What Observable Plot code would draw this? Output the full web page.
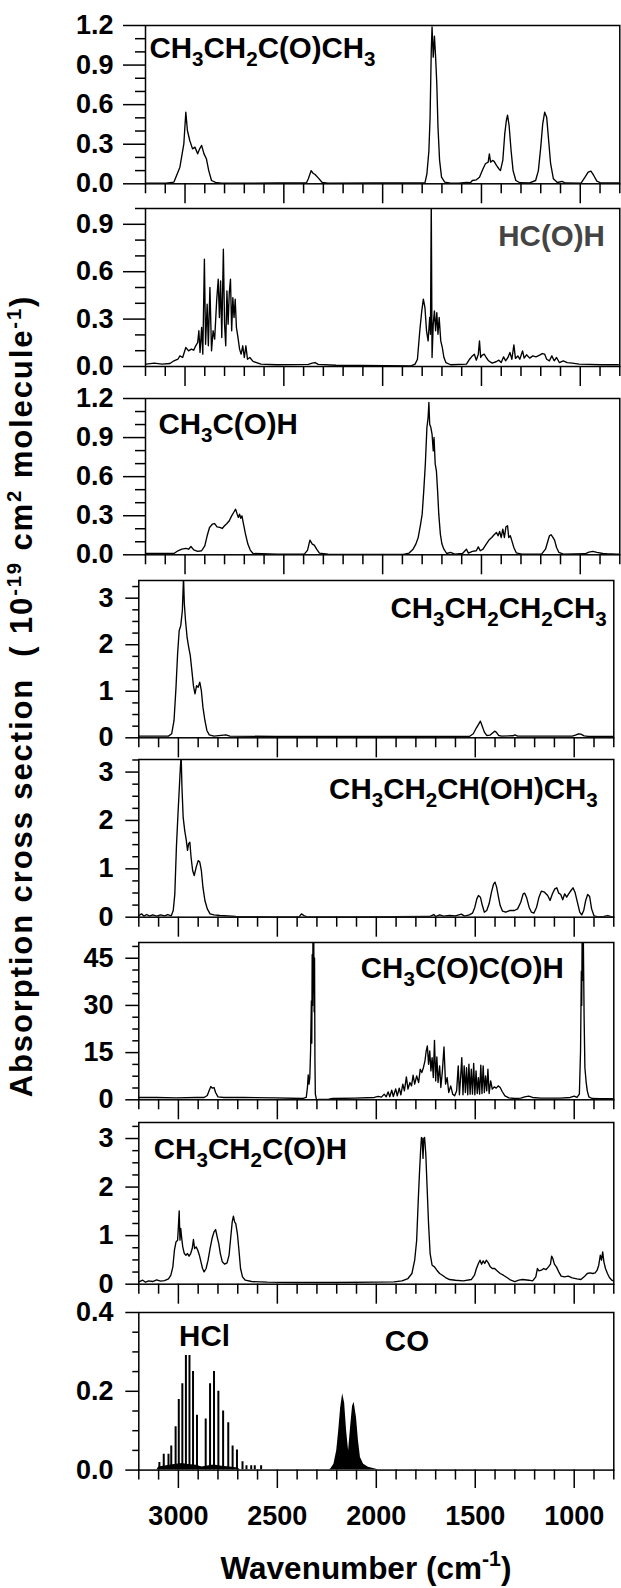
<!DOCTYPE html>
<html><head><meta charset="utf-8">
<script src="https://cdn.jsdelivr.net/npm/d3@7"></script>
<script src="https://cdn.jsdelivr.net/npm/@observablehq/plot@0.6"></script>
<style>
html,body{margin:0;padding:0;background:#fff;}
#chart{position:relative;width:621px;height:1588px;overflow:hidden;font-family:"Liberation Sans",Arial,sans-serif;}
#chart svg{position:absolute;left:0;overflow:visible;}
#chart svg text{font-family:"Liberation Sans",Arial,sans-serif;font-weight:bold;}
</style></head><body><div id="chart"></div>
<script>
// ---------- data: [wavenumber (cm-1), cross section] ----------
const butanone = [[3200,.005],[3196,.005],[3096,.005],[3056,.013],[3026,.126],[3006,.303],[2996,.543],[2988,.404],[2976,.328],[2962,.265],[2950,.278],[2936,.227],[2926,.265],[2916,.291],[2904,.227],[2892,.19],[2880,.10],[2866,.025],[2846,.01],[2816,.005],[2536,.006],[2386,.006],[2376,.038],[2362,.10],[2352,.08],[2342,.07],[2326,.045],[2306,.01],[2276,.004],[2036,.006],[1786,.007],[1776,.076],[1766,.25],[1760,.505],[1754,1.01],[1750,1.19],[1744,.96],[1738,1.12],[1732,.96],[1726,.76],[1720,.43],[1712,.18],[1702,.05],[1686,.013],[1656,.005],[1616,.004],[1576,.01],[1556,.008],[1546,.025],[1526,.03],[1510,.05],[1492,.114],[1480,.152],[1466,.164],[1460,.227],[1454,.164],[1444,.177],[1436,.17],[1424,.139],[1412,.114],[1404,.10],[1392,.177],[1382,.38],[1374,.48],[1368,.52],[1360,.44],[1350,.25],[1340,.10],[1326,.025],[1306,.008],[1256,.007],[1226,.025],[1212,.10],[1200,.278],[1190,.455],[1180,.543],[1170,.505],[1160,.328],[1150,.152],[1136,.038],[1116,.01],[1092,.018],[1076,.006],[996,.005],[976,.05],[960,.088],[946,.096],[932,.063],[916,.02],[896,.006],[816,.006],[800,.006]];

const formaldehyde = [[3200,.015],[3196,.015],[3156,.021],[3116,.015],[3076,.019],[3056,.036],[3036,.046],[3026,.067],[3012,.057],[2996,.12],[2982,.099],[2968,.11],[2956,.103],[2946,.131],[2936,.152],[2930,.226],[2924,.089],[2916,.247],[2910,.078],[2902,.679],[2896,.141],[2888,.394],[2882,.131],[2874,.50],[2866,.099],[2858,.226],[2850,.173],[2840,.415],[2832,.552],[2826,.31],[2820,.542],[2814,.183],[2806,.742],[2800,.268],[2794,.131],[2788,.479],[2782,.268],[2776,.468],[2770,.552],[2764,.226],[2758,.436],[2752,.31],[2746,.426],[2740,.247],[2732,.183],[2724,.11],[2716,.078],[2708,.131],[2700,.057],[2692,.131],[2684,.046],[2672,.057],[2656,.032],[2616,.015],[2536,.011],[2376,.013],[2356,.021],[2342,.025],[2326,.013],[2236,.008],[1856,.004],[1836,.015],[1824,.046],[1812,.226],[1802,.352],[1794,.426],[1786,.373],[1778,.226],[1770,.162],[1762,.31],[1758,.204],[1754,1.05],[1750,.057],[1744,.268],[1738,.352],[1732,.226],[1726,.341],[1720,.204],[1714,.31],[1706,.162],[1698,.12],[1690,.057],[1680,.025],[1656,.011],[1576,.015],[1560,.046],[1546,.067],[1536,.078],[1526,.04],[1516,.078],[1510,.162],[1504,.057],[1496,.072],[1486,.078],[1476,.057],[1464,.036],[1446,.021],[1426,.03],[1412,.04],[1400,.025],[1388,.061],[1378,.036],[1366,.057],[1356,.089],[1346,.046],[1336,.137],[1328,.051],[1316,.067],[1306,.046],[1292,.099],[1284,.053],[1272,.074],[1256,.053],[1240,.067],[1224,.061],[1206,.072],[1192,.082],[1180,.078],[1170,.046],[1156,.036],[1144,.067],[1132,.036],[1120,.057],[1106,.025],[1086,.036],[1066,.025],[1040,.021],[1006,.015],[956,.013],[896,.011],[816,.011],[800,.01]];

const acetaldehyde = [[3200,.01],[3196,.01],[3056,.01],[3036,.031],[3016,.043],[2996,.049],[2982,.043],[2970,.064],[2956,.038],[2936,.026],[2916,.031],[2900,.069],[2888,.146],[2876,.21],[2862,.235],[2850,.24],[2838,.215],[2824,.21],[2812,.202],[2800,.223],[2788,.24],[2776,.261],[2764,.299],[2754,.325],[2744,.35],[2736,.312],[2730,.287],[2724,.312],[2718,.281],[2712,.299],[2704,.235],[2694,.159],[2682,.082],[2670,.036],[2656,.01],[2536,.005],[2396,.005],[2380,.036],[2368,.113],[2356,.082],[2346,.074],[2334,.043],[2320,.013],[2276,.005],[1896,.003],[1866,.013],[1846,.043],[1832,.082],[1820,.133],[1808,.235],[1800,.312],[1792,.491],[1784,.696],[1776,.977],[1770,1.054],[1766,1.169],[1762,1.003],[1756,.977],[1750,.926],[1744,.798],[1740,.901],[1734,.696],[1728,.645],[1722,.491],[1716,.312],[1708,.159],[1700,.082],[1690,.043],[1676,.01],[1656,.018],[1636,.005],[1596,.01],[1576,.043],[1566,.013],[1546,.026],[1526,.031],[1516,.061],[1506,.031],[1492,.043],[1476,.082],[1462,.113],[1448,.133],[1436,.154],[1424,.171],[1416,.146],[1408,.179],[1400,.133],[1392,.197],[1384,.133],[1376,.215],[1368,.223],[1362,.133],[1354,.146],[1346,.107],[1336,.056],[1324,.015],[1296,.005],[1196,.005],[1176,.043],[1166,.094],[1156,.146],[1148,.154],[1140,.138],[1130,.113],[1120,.056],[1108,.018],[1086,.005],[976,.008],[956,.02],[936,.026],[916,.018],[886,.01],[866,.008],[816,.005],[800,.005]];

const butane = [[3200,.036],[3110,.036],[3050,.036],[3034,.086],[3022,.372],[3012,1.088],[3004,1.80],[2996,2.30],[2988,2.41],[2980,2.73],[2974,3.45],[2970,2.88],[2964,2.52],[2956,2.16],[2948,1.95],[2940,1.77],[2932,1.45],[2924,1.12],[2916,.945],[2908,1.12],[2900,1.088],[2892,1.195],[2884,1.016],[2876,.659],[2866,.372],[2856,.157],[2844,.064],[2820,.036],[2760,.064],[2740,.036],[2510,.029],[1910,.029],[1530,.029],[1510,.086],[1494,.215],[1482,.30],[1474,.358],[1466,.265],[1454,.122],[1442,.05],[1426,.057],[1414,.10],[1402,.143],[1394,.122],[1382,.05],[1366,.036],[1310,.043],[1300,.064],[1286,.036],[1110,.036],[1010,.036],[994,.057],[978,.086],[966,.079],[950,.043],[930,.029],[810,.029],[800,.029]];

const butanol = [[3200,.034],[3186,.069],[3174,.021],[3160,.055],[3146,.021],[3130,.048],[3110,.021],[3090,.048],[3070,.028],[3054,.055],[3036,.028],[3026,.138],[3018,.483],[3010,1.448],[3002,2.138],[2996,2.62],[2990,3.10],[2986,3.35],[2982,2.69],[2976,2.07],[2968,1.79],[2960,1.59],[2954,1.38],[2948,1.52],[2942,1.55],[2936,1.24],[2928,.966],[2920,.862],[2910,1.034],[2900,1.17],[2892,1.14],[2884,.966],[2876,.62],[2866,.345],[2854,.172],[2840,.069],[2820,.048],[2790,.034],[2710,.014],[2510,.007],[2390,.007],[2378,.069],[2366,.034],[2350,.007],[2110,.007],[1730,.014],[1710,.055],[1700,.014],[1680,.048],[1660,.021],[1630,.034],[1600,.028],[1570,.062],[1554,.021],[1530,.048],[1514,.083],[1502,.207],[1492,.379],[1484,.448],[1474,.414],[1464,.241],[1454,.103],[1442,.138],[1430,.276],[1418,.517],[1408,.676],[1400,.724],[1392,.621],[1384,.448],[1374,.241],[1362,.124],[1346,.103],[1326,.138],[1302,.138],[1286,.172],[1270,.31],[1258,.483],[1250,.497],[1240,.40],[1228,.207],[1216,.103],[1204,.083],[1190,.207],[1178,.414],[1166,.538],[1150,.517],[1134,.448],[1122,.345],[1110,.483],[1098,.586],[1088,.607],[1078,.497],[1068,.469],[1058,.359],[1048,.483],[1038,.414],[1028,.483],[1016,.552],[1006,.607],[996,.517],[984,.31],[972,.103],[962,.048],[952,.138],[942,.345],[932,.469],[922,.428],[912,.172],[900,.028],[880,.007],[850,.014],[830,.034],[810,.007],[800,.007]];

const methylglyoxal = [[3200,.74],[3110,.74],[3010,.63],[2910,.74],[2870,.74],[2854,1.37],[2844,3.06],[2836,4.22],[2828,3.7],[2820,3.9],[2812,2.32],[2800,.95],[2770,.74],[2670,.74],[2510,.63],[2370,.42],[2354,.74],[2348,3.9],[2344,7.92],[2340,4.96],[2336,7.07],[2332,15.5],[2330,24],[2328,31.4],[2326,18],[2324,46.1],[2322,30],[2320,52],[2318,34],[2316,52],[2314,28],[2312,45],[2310,12],[2308,1.8],[2302,0],[2290,.1],[2240,.21],[2220,.42],[2110,.53],[2010,.74],[1990,1.06],[1974,.84],[1960,1.8],[1950,.95],[1940,2.53],[1932,.95],[1922,3.06],[1914,1.06],[1902,3.48],[1894,1.27],[1884,3.7],[1876,1.58],[1866,4.96],[1858,2.85],[1848,7.29],[1840,3.38],[1830,5.49],[1822,4.43],[1814,7.81],[1806,4.96],[1796,7.6],[1786,5.49],[1778,9.71],[1770,8.66],[1762,10.2],[1754,12.4],[1748,15.5],[1742,17.1],[1736,11.3],[1730,15.5],[1724,9.19],[1718,13.4],[1712,7.07],[1706,18.9],[1700,6.02],[1694,13.6],[1688,5.49],[1680,10.8],[1674,3.91],[1666,9.19],[1658,16.8],[1650,4.96],[1642,7.07],[1634,2.32],[1624,4.43],[1614,1.8],[1604,1.27],[1594,2.85],[1586,10.8],[1580,1.58],[1574,7.07],[1568,13.4],[1562,1.58],[1556,10.8],[1550,2.32],[1544,10.2],[1538,1.58],[1532,11.3],[1526,1.8],[1520,9.71],[1514,1.8],[1508,11.6],[1502,1.58],[1496,9.19],[1490,2.01],[1484,7.07],[1478,1.8],[1472,11.0],[1466,2.01],[1460,10.8],[1454,2.32],[1448,7.6],[1442,2.85],[1436,9.71],[1430,2.01],[1422,6.02],[1414,3.38],[1404,4.12],[1394,3.7],[1384,4.43],[1374,3.91],[1364,2.64],[1350,1.27],[1330,.63],[1300,.42],[1270,.53],[1250,.95],[1230,1.16],[1210,.74],[1170,.53],[1070,.53],[1020,.74],[1000,1.16],[986,.74],[974,1.8],[968,15.5],[964,40.9],[962,30],[960,52],[958,38],[956,52],[954,52],[950,26.1],[946,10.2],[940,5.8],[934,2.85],[926,.95],[910,.42],[870,.32],[810,.32],[800,.3]];

const propanal = [[3200,.048],[3180,.082],[3166,.041],[3150,.069],[3130,.055],[3110,.089],[3090,.062],[3070,.075],[3050,.11],[3038,.185],[3028,.357],[3020,.70],[3012,.872],[3004,.906],[3000,1.18],[2996,1.51],[2992,.906],[2988,1.146],[2984,.975],[2978,.769],[2970,.631],[2962,.597],[2954,.631],[2946,.577],[2938,.631],[2930,.734],[2924,.92],[2918,.734],[2910,.769],[2902,.70],[2894,.597],[2886,.46],[2878,.323],[2870,.254],[2860,.323],[2850,.494],[2840,.734],[2830,.94],[2820,1.078],[2812,1.126],[2804,.975],[2796,.837],[2788,.631],[2778,.46],[2766,.412],[2754,.439],[2744,.597],[2736,.94],[2728,1.283],[2722,1.40],[2716,1.283],[2710,1.249],[2702,1.043],[2694,.70],[2686,.323],[2676,.151],[2662,.082],[2630,.055],[2550,.041],[2410,.034],[2210,.034],[2010,.041],[1910,.048],[1870,.069],[1840,.117],[1820,.22],[1806,.494],[1796,.906],[1788,1.73],[1782,2.28],[1776,2.76],[1772,3.02],[1768,3.0],[1764,2.59],[1760,3.0],[1756,3.02],[1750,2.69],[1744,2.07],[1736,1.249],[1728,.631],[1718,.391],[1706,.357],[1694,.288],[1680,.22],[1666,.185],[1650,.137],[1630,.096],[1600,.082],[1560,.069],[1520,.096],[1504,.185],[1494,.323],[1484,.426],[1476,.494],[1468,.412],[1460,.48],[1452,.426],[1444,.494],[1434,.439],[1424,.357],[1414,.323],[1402,.323],[1390,.275],[1374,.22],[1358,.185],[1340,.137],[1320,.082],[1300,.055],[1280,.082],[1260,.096],[1230,.082],[1210,.069],[1194,.151],[1186,.323],[1178,.275],[1166,.288],[1154,.323],[1142,.302],[1130,.357],[1120,.412],[1114,.577],[1108,.528],[1100,.412],[1090,.357],[1078,.254],[1066,.165],[1050,.151],[1030,.165],[1010,.13],[986,.11],[966,.096],[950,.151],[934,.22],[920,.233],[906,.22],[894,.233],[884,.288],[876,.391],[868,.597],[862,.494],[856,.666],[850,.46],[842,.323],[832,.22],[822,.137],[810,.082],[800,.06]];

const hclLines = [[3096,.019],[3074,.04],[3050,.04],[3036,.061],[3014,.11],[2998,.179],[2980,.219],[2962,.291],[2944,.291],[2926,.25],[2906,.139],[2862,.13],[2840,.219],[2820,.25],[2798,.2],[2774,.15],[2748,.12],[2726,.061],[2704,.051],[2676,.021],[2656,.011],[2632,.011],[2614,.011],[2582,.011]];
const hclBase = [[3108,0],[3100,.008],[3060,.011],[3020,.014],[2980,.017],[2950,.014],[2910,.012],[2880,.008],[2860,.01],[2820,.013],[2780,.01],[2740,.008],[2700,.005],[2685,0]];
const coBand = [[2240,0],[2230,.0025],[2214,.015],[2200,.049],[2190,.099],[2180,.158],[2170,.194],[2160,.17],[2150,.099],[2140,.049],[2130,.108],[2120,.162],[2112,.172],[2100,.133],[2090,.074],[2080,.032],[2064,.015],[2040,.007],[2000,.002],[1990,0]];
const bandNames = ["HCl", "CO"];
const bandLabelWn = [2868, 1845];

// ---------- ticks ----------
const xMajorTicks = [3000, 2500, 2000, 1500, 1000];
const xMinorTicks = [3200,3100,2900,2800,2700,2600,2400,2300,2200,2100,1900,1800,1700,1600,1400,1300,1200,1100,900,800];
const yMajor12 = [0, 0.3, 0.6, 0.9, 1.2], yMinor12 = [0.1,0.2,0.4,0.5,0.7,0.8,1.0,1.1];
const yMajor10 = [0, 0.3, 0.6, 0.9], yMinor10 = [0.1,0.2,0.4,0.5,0.7,0.8,1.0];
const yMajor3 = [0, 1, 2, 3], yMinor3 = [0.25,0.5,0.75,1.25,1.5,1.75,2.25,2.5,2.75,3.25];
const yMajor45 = [0, 15, 30, 45], yMinor45 = [3.75,7.5,11.25,18.75,22.5,26.25,33.75,37.5,41.25,48.75];
const yMajor04 = [0, 0.2, 0.4], yMinor04 = [0.05,0.1,0.15,0.25,0.3,0.35];
const labels = ["CH_3CH_2C(O)CH_3","HC(O)H","CH_3C(O)H","CH_3CH_2CH_2CH_3","CH_3CH_2CH(OH)CH_3","CH_3C(O)C(O)H","CH_3CH_2C(O)H"];
const yMaxes = [1.2, 1.0, 1.2, 3.38, 3.26, 50, 3.33, 0.4];

// ---------- layout ----------
const FS = 27;     // tick labels
const LFS = 29.5;  // panel labels
const topGeom = {left:145, right:619.3, tMaj:22, tMin:10, pad:10};
const botGeom = {left:138.3, right:613.3, tMaj:13, tMin:6, pad:12.3};
const panels = [
  {data:butanone, top:25, bottom:183.3, g:topGeom, yMaj:yMajor12, yMin:yMinor12, fmt:".1f", lab:{a:"top-left", dx:4, dy:11.5}},
  {data:formaldehyde, top:207.7, bottom:365.7, g:topGeom, yMaj:yMajor10, yMin:yMinor10, fmt:".1f", lab:{a:"top-right", dx:-15, dy:16.5, fill:"#444"}},
  {data:acetaldehyde, top:397.7, bottom:554, g:topGeom, yMaj:yMajor12, yMin:yMinor12, fmt:".1f", lab:{a:"top-left", dx:13, dy:14.8}},
  {data:butane, top:580, bottom:737.3, g:botGeom, yMaj:yMajor3, yMin:yMinor3, fmt:"d", lab:{a:"top-right", dx:-7, dy:17}},
  {data:butanol, top:759, bottom:916.7, g:botGeom, yMaj:yMajor3, yMin:yMinor3, fmt:"d", lab:{a:"top-right", dx:-16, dy:18.3}},
  {data:methylglyoxal, top:941.7, bottom:1099, g:botGeom, yMaj:yMajor45, yMin:yMinor45, fmt:"d", lab:{a:"top-left", dx:222, dy:14.6}},
  {data:propanal, top:1122.3, bottom:1284, g:botGeom, yMaj:yMajor3, yMin:yMinor3, fmt:"d", lab:{a:"top-left", dx:15, dy:16}},
  {data:null, top:1311.7, bottom:1469.3, g:botGeom, yMaj:yMajor04, yMin:yMinor04, fmt:".1f"}
];

const SVGNS = "http://www.w3.org/2000/svg";
function rich(el, fs, supShift = 0.4, supSize = 0.68) {
  const s = el.textContent;
  if (!/[_^]/.test(s)) return;
  const parts = s.split(/([_^][-0-9]+)/).filter(p => p.length);
  while (el.firstChild) el.removeChild(el.firstChild);
  let shift = 0;
  for (const p of parts) {
    const ts = document.createElementNS(SVGNS, "tspan");
    let target = 0, str = p;
    if (p[0] === "_") { target = 0.27 * fs; str = p.slice(1); ts.setAttribute("font-size", 0.7 * fs); }
    else if (p[0] === "^") { target = -supShift * fs; str = p.slice(1); ts.setAttribute("font-size", supSize * fs); }
    if (target !== shift) ts.setAttribute("dy", target - shift);
    shift = target;
    ts.textContent = str;
    el.appendChild(ts);
  }
}

const chart = document.getElementById("chart");
const mt = 20, mb = 30;
const X = d => d[0], Y = d => d[1];

panels.forEach((p, i) => {
  const last = i === panels.length - 1;
  const g = p.g;
  const marks = [];
  if (p.data) {
    marks.push(Plot.line(p.data, {x: X, y: Y, stroke: "black", strokeWidth: 1.35, clip: true}));
  } else {
    marks.push(Plot.areaY(hclBase, {x: X, y: Y, fill: "black", clip: true}));
    marks.push(Plot.ruleX(hclLines, {x: X, y1: 0, y2: Y, stroke: "black", strokeWidth: 2, clip: true}));
    marks.push(Plot.areaY(coBand, {x: X, y: Y, fill: "black", clip: true}));
    marks.push(Plot.text([0], {x: () => bandLabelWn[0], text: () => bandNames[0], frameAnchor: "top", dy: 12.8, lineAnchor: "top", textAnchor: "middle", fontSize: LFS, fontWeight: "bold"}));
    marks.push(Plot.text([1], {x: () => bandLabelWn[1], text: () => bandNames[1], frameAnchor: "top", dy: 17.8, lineAnchor: "top", textAnchor: "middle", fontSize: LFS, fontWeight: "bold"}));
  }
  marks.push(
    Plot.frame({stroke: "black", strokeWidth: 1.5}),
    Plot.axisX(xMinorTicks, {tickSize: 10, tickFormat: () => "", strokeWidth: 1.5, label: null}),
    Plot.axisX(xMajorTicks, {tickSize: last ? 18.4 : 20, tickPadding: 17.3, tickFormat: last ? d3.format("d") : () => "", fontSize: FS, fontWeight: "bold", strokeWidth: 1.5, label: null}),
    Plot.axisY(p.yMin, {tickSize: g.tMin, tickFormat: () => "", strokeWidth: 1.5, label: null}),
    Plot.axisY(p.yMaj, {tickSize: g.tMaj, tickPadding: g.pad, tickFormat: d3.format(p.fmt), fontSize: FS, fontWeight: "bold", strokeWidth: 1.5, label: null})
  );
  if (p.lab) {
    marks.push(Plot.text([labels[i]], {frameAnchor: p.lab.a, text: d => d, dx: p.lab.dx, dy: p.lab.dy, lineAnchor: "top", fontSize: LFS, fontWeight: "bold", fill: p.lab.fill || "black"}));
  }
  const svg = Plot.plot({
    width: 621,
    height: p.bottom - p.top + mt + mb,
    marginLeft: g.left, marginRight: 621 - g.right, marginTop: mt, marginBottom: mb,
    x: {domain: [3200, 800], label: null},
    y: {domain: [0, yMaxes[i]], label: null},
    style: {background: "transparent", overflow: "visible", fontSize: FS + "px", fontFamily: '"Liberation Sans", Arial, sans-serif', fontWeight: "bold"},
    marks
  });
  svg.style.top = (p.top - mt) + "px";
  svg.querySelectorAll("text").forEach(t => rich(t, LFS));
  chart.appendChild(svg);
});

// ---------- axis titles ----------
const YFS = 31, XFS = 31.5;
const tsvg = d3.create("svg").attr("width", 621).attr("height", 1588).style("top", "0px");
const ytitle = tsvg.append("text")
  .attr("transform", "translate(32,696) rotate(-90)")
  .attr("text-anchor", "middle").attr("font-size", YFS).attr("fill", "black")
  .style("white-space", "pre").style("letter-spacing", "1.9px")
  .text("Absorption cross section  ( 10^-19 cm^2 molecule^-1)");
const xtitle = tsvg.append("text")
  .attr("x", 366).attr("y", 1579)
  .attr("text-anchor", "middle").attr("font-size", XFS).attr("fill", "black")
  .text("Wavenumber (cm^-1)");
rich(ytitle.node(), YFS, 0.34, 0.65);
rich(xtitle.node(), XFS, 0.4, 0.68);
chart.appendChild(tsvg.node());
</script></body></html>
